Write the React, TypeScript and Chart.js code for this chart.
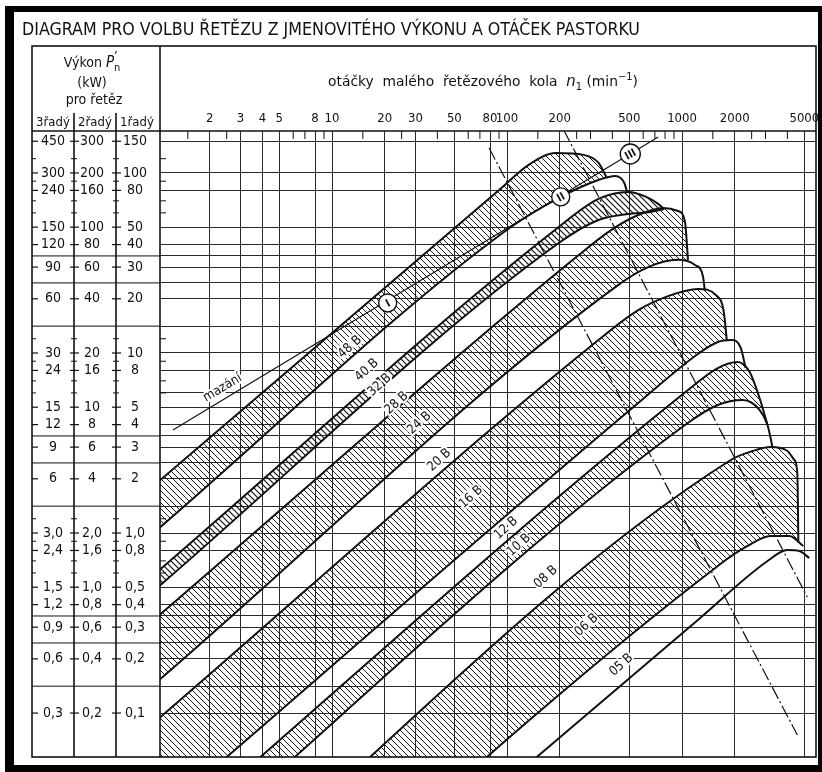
import { useEffect, useRef } from "react";
import { Chart, registerables } from "chart.js";

Chart.register(...registerables);

const FONT = "'DejaVu Sans Condensed', 'Liberation Sans Narrow', 'DejaVu Sans', sans-serif";

// ---------------- axis ranges ----------------
const rpmMin = 1.04;
const rpmMax = 5830;
const kwMin = 0.057;
const kwMax = 171;

// ---------------- x axis (otáčky n1) ----------------
const xTicks = [2, 3, 4, 5, 8, 10, 20, 30, 50, 80, 100, 200, 500, 1000, 2000, 5000];
const xTickLabels = ["2", "3", "4", "5", "8", "10", "20", "30", "50", "80", "100", "200", "500", "1000", "2000", "5000"];
const xMinorTicks = [1.5, 2.5, 6, 7, 9, 15, 25, 40, 60, 70, 90, 150, 250, 300, 400, 600, 700, 800, 900, 1500, 2500, 3000, 4000];

// ---------------- y axis (výkon, 1-řadý scale) ----------------
const yValues = [150, 100, 80, 50, 40, 30, 20, 10, 8, 5, 4, 3, 2, 1, 0.8, 0.5, 0.4, 0.3, 0.2, 0.1];
const yLabels3 = ["450", "300", "240", "150", "120", "90", "60", "30", "24", "15", "12", "9", "6", "3,0", "2,4", "1,5", "1,2", "0,9", "0,6", "0,3"];
const yLabels2 = ["300", "200", "160", "100", "80", "60", "40", "20", "16", "10", "8", "6", "4", "2,0", "1,6", "1,0", "0,8", "0,6", "0,4", "0,2"];
const yLabels1 = ["150", "100", "80", "50", "40", "30", "20", "10", "8", "5", "4", "3", "2", "1,0", "0,8", "0,5", "0,4", "0,3", "0,2", "0,1"];
const yDividers = [34.6, 24.5, 14.1, 3.46, 2.45, 1.41, 0.346, 0.245, 0.141];
const yExtraGrid = [6];
const yMinorTicks = [120, 90, 70, 60, 12, 9, 7, 6, 1.2, 0.9, 0.7, 0.6];

// ---------------- chain band boundaries [rpm, kW (1-řadý)] ----------------
type Pt = [number, number];
const b48Top: Pt[] = [[1, 1.9], [90.1, 80.4], [133, 111], [190, 129], [274, 126], [333, 114], [370, 95.0]];
const b48_40: Pt[] = [[1, 1.04], [96.1, 47.0], [203, 73.6], [333, 91.4], [416, 96.2], [468, 88.0], [487, 77.4]];
const b40_32: Pt[] = [[1, 0.607], [197.5, 50.1], [333, 71.7], [493, 78.4], [625, 73.6], [730, 67.3], [790, 63.1]];
const b32_28: Pt[] = [[1, 0.495], [197.5, 40.8], [333, 54.8], [493, 59.2], [658, 60.7], [790, 63.1]];
const b28_24: Pt[] = [[1, 0.341], [257, 35.0], [395, 48.3], [562, 58.4], [780, 63.9], [949, 61.5], [1040, 53.4], [1082, 32.9]];
const b24_20: Pt[] = [[1, 0.149], [433, 23.9], [641, 30.0], [949, 32.9], [1186, 30.8], [1316, 26.8], [1351, 22.1]];
const b20_16: Pt[] = [[1, 0.0914], [333, 11.8], [562, 17.3], [833, 20.7], [1232, 22.7], [1561, 21.0], [1733, 16.9], [1802, 11.8]];
const b16_12: Pt[] = [[1, 0.0264], [562, 5.27], [1232, 9.87], [1602, 11.5], [1924, 11.8], [2164, 10.7], [2310, 8.25]];
const b12_10: Pt[] = [[1, 0.018], [1082, 6.23], [1602, 8.25], [2081, 8.91], [2435, 7.84], [2774, 5.62], [3081, 3.98]];
const b10_08: Pt[] = [[1, 0.012], [1040, 3.98], [1602, 5.14], [2221, 5.48], [2774, 4.83], [3081, 3.98], [3289, 3.0]];
const b08_06: Pt[] = [[1, 0.00482], [1898, 2.545], [2532, 2.854], [3204, 3.0], [4003, 2.854], [4385, 2.545], [4562, 2.127], [4622, 0.89]];
const b06_05: Pt[] = [[1, 0.001377], [1602, 0.656], [2371, 0.847], [3204, 0.962], [4108, 0.962], [4933, 0.847]];
const b05Low: Pt[] = [[1, 0.000915], [1232, 0.3286], [3081, 0.699], [4003, 0.804], [4683, 0.794], [5337, 0.726]];

const bounds = [b48Top, b48_40, b40_32, b32_28, b28_24, b24_20, b20_16, b16_12, b12_10, b10_08, b08_06, b06_05, b05Low];
// fill style of the band between bounds[i] and bounds[i+1]
const bandFill = ["hatch", "", "ladder", "", "hatch", "", "hatch", "", "hatch", "", "hatch", "", ""];

// lubrication line (mazání, I, II, III) and the two dash-dot limits
const lubeLine: Pt[] = [[1.233, 3.735], [730.5, 158.5]];
const dashLine1: Pt[] = [[79.0, 137.7], [4562, 0.0755]];
const dashLine2: Pt[] = [[210.8, 173.3], [5198, 0.441]];
const zoneNames = ["I", "II", "III"];
const zoneRpm = [20.8, 202.7, 506.3];
const zoneKw = [18.96, 73.6, 127.5];

const chainNames = ["48 B", "40 B", "32 B", "28 B", "24 B", "20 B", "16 B", "12 B", "10 B", "08 B", "06 B", "05 B"];
const chainLabelRpm = [12.66, 15.8, 18.7, 23.4, 31.6, 41.1, 62.4, 98.7, 117, 166.6, 284.8, 450.3];
const chainLabelKw = [10.8, 8.04, 6.64, 5.27, 4.08, 2.54, 1.585, 1.066, 0.858, 0.57, 0.308, 0.185];
const lubeLabel = "mazání";
const lubeLabelPos: Pt = [2.37, 6.39];

const TITLE = "DIAGRAM PRO VOLBU ŘETĚZU Z JMENOVITÉHO VÝKONU A OTÁČEK PASTORKU";
const rowHeads = ["3řadý", "2řadý", "1řadý"];

type Seg = { t: string; f: string; dy?: number; adv?: boolean };

function richWidth(ctx: CanvasRenderingContext2D, segs: Seg[]) {
  let w = 0;
  for (const s of segs) {
    ctx.font = s.f;
    if (s.adv !== false) w += ctx.measureText(s.t).width;
  }
  return w;
}
function drawRich(ctx: CanvasRenderingContext2D, segs: Seg[], x: number, y: number) {
  let cx = x;
  for (const s of segs) {
    ctx.font = s.f;
    ctx.fillText(s.t, cx, y + (s.dy || 0));
    if (s.adv !== false) cx += ctx.measureText(s.t).width;
  }
}
function drawFit(ctx: CanvasRenderingContext2D, segs: Seg[], x: number, y: number, w: number) {
  const tw = richWidth(ctx, segs);
  ctx.save();
  ctx.translate(x, y);
  ctx.scale(w / tw, 1);
  drawRich(ctx, segs, 0, 0);
  ctx.restore();
}
function drawCentered(ctx: CanvasRenderingContext2D, segs: Seg[], cx: number, y: number) {
  const tw = richWidth(ctx, segs);
  drawRich(ctx, segs, cx - tw / 2, y);
}

function makePattern(size: number, lw: number, color: string) {
  const c = document.createElement("canvas");
  c.width = size;
  c.height = size;
  const g = c.getContext("2d")!;
  g.strokeStyle = color;
  g.lineWidth = lw;
  g.beginPath();
  g.moveTo(-1, -1);
  g.lineTo(size + 1, size + 1);
  g.moveTo(-1, size - 1);
  g.lineTo(1, size + 1);
  g.moveTo(size - 1, -1);
  g.lineTo(size + 1, 1);
  g.stroke();
  return g.createPattern(c, "repeat")!;
}

const decorPlugin = {
  id: "decor",
  beforeDraw(chart: any) {
    const { ctx, width, height } = chart;
    ctx.save();
    ctx.fillStyle = "#fff";
    ctx.fillRect(0, 0, width, height);
    ctx.restore();
  },
  afterDraw(chart: any) {
    const ctx = chart.ctx as CanvasRenderingContext2D;
    const xs = chart.scales.x;
    const ys = chart.scales.y;
    const { left: PL, right: PR, top: PT, bottom: PB } = chart.chartArea;
    const TL = 32, C2 = 74, C1 = 116, TT = 46;
    const ink = "#111";
    const line = (x1: number, y1: number, x2: number, y2: number) => {
      ctx.beginPath();
      ctx.moveTo(x1, y1);
      ctx.lineTo(x2, y2);
      ctx.stroke();
    };
    ctx.save();
    ctx.strokeStyle = ink;
    ctx.fillStyle = ink;

    // minor ticks on top edge and left edge of the plot
    ctx.lineWidth = 1;
    for (const v of xMinorTicks) {
      const x = xs.getPixelForValue(v);
      line(x, PT, x, PT + 8);
    }
    for (const v of yMinorTicks) {
      const y = ys.getPixelForValue(v);
      line(PL, y, PL + 6, y);
    }

    // table frame
    ctx.lineWidth = 1.6;
    ctx.strokeRect(TL, TT, PR - TL, PB - TT);
    line(PL, TT, PL, PB);
    line(TL, PT, PR, PT);
    line(C2, PT - 18, C2, PB);
    line(C1, PT - 18, C1, PB);

    // dividers across the power columns
    ctx.lineWidth = 1;
    for (const v of yDividers) {
      const y = ys.getPixelForValue(v);
      line(TL, y, PL, y);
    }
    // tick marks in the columns
    ctx.lineWidth = 1.2;
    for (const v of yValues) {
      const y = ys.getPixelForValue(v);
      line(TL, y, TL + 6, y);
      line(C2 - 4, y, C2 + 5, y);
      line(C1 - 4, y, C1 + 5, y);
    }
    ctx.lineWidth = 1;
    for (const v of yMinorTicks) {
      const y = ys.getPixelForValue(v);
      line(TL, y, TL + 4, y);
      line(C2 - 3, y, C2 + 3, y);
      line(C1 - 3, y, C1 + 3, y);
    }

    // power labels
    ctx.font = `14px ${FONT}`;
    ctx.textAlign = "center";
    ctx.textBaseline = "middle";
    yValues.forEach((v, i) => {
      const y = ys.getPixelForValue(v);
      ctx.fillText(yLabels3[i], 53, y);
      ctx.fillText(yLabels2[i], 92, y);
      ctx.fillText(yLabels1[i], 135, y);
    });

    // header texts
    ctx.textAlign = "left";
    ctx.textBaseline = "alphabetic";
    drawFit(ctx, [{ t: TITLE, f: `17px ${FONT}` }], 22, 35, 618);
    drawCentered(
      ctx,
      [
        { t: "Výkon ", f: `14px ${FONT}` },
        { t: "P", f: `italic 15px ${FONT}` },
        { t: "’", f: `13px ${FONT}`, dy: -7, adv: false },
        { t: "n", f: `11px ${FONT}`, dy: 4 },
      ],
      92,
      67
    );
    drawCentered(ctx, [{ t: "(kW)", f: `14px ${FONT}` }], 92, 87);
    drawCentered(ctx, [{ t: "pro řetěz", f: `14px ${FONT}` }], 94, 104);
    ctx.textAlign = "center";
    ctx.font = `13px ${FONT}`;
    ctx.fillText(rowHeads[0], 53, 126);
    ctx.fillText(rowHeads[1], 95, 126);
    ctx.fillText(rowHeads[2], 137, 126);
    ctx.textAlign = "left";
    drawFit(
      ctx,
      [
        { t: "otáčky  malého  řetězového  kola  ", f: `14px ${FONT}` },
        { t: "n", f: `italic 15px ${FONT}` },
        { t: "1", f: `10px ${FONT}`, dy: 4 },
        { t: " (min", f: `14px ${FONT}` },
        { t: "−1", f: `10px ${FONT}`, dy: -6 },
        { t: ")", f: `14px ${FONT}` },
      ],
      328,
      86,
      310
    );

    // clip annotations to plot
    ctx.save();
    ctx.beginPath();
    ctx.rect(PL, PT, PR - PL, PB - PT);
    ctx.clip();

    // chain labels
    ctx.font = `13px ${FONT}`;
    ctx.textAlign = "center";
    ctx.textBaseline = "middle";
    chainNames.forEach((t, i) => {
      const x = xs.getPixelForValue(chainLabelRpm[i]);
      const y = ys.getPixelForValue(chainLabelKw[i]);
      ctx.save();
      ctx.translate(x, y);
      ctx.rotate((-42 * Math.PI) / 180);
      ctx.lineWidth = 4;
      ctx.strokeStyle = "#fff";
      ctx.strokeText(t, 0, 0);
      ctx.fillStyle = ink;
      ctx.fillText(t, 0, 0);
      ctx.restore();
    });
    {
      const x = xs.getPixelForValue(lubeLabelPos[0]);
      const y = ys.getPixelForValue(lubeLabelPos[1]);
      ctx.save();
      ctx.translate(x, y);
      ctx.rotate((-31 * Math.PI) / 180);
      ctx.lineWidth = 4;
      ctx.strokeStyle = "#fff";
      ctx.strokeText(lubeLabel, 0, 0);
      ctx.fillStyle = ink;
      ctx.fillText(lubeLabel, 0, 0);
      ctx.restore();
    }
    // lubrication zone circles
    zoneNames.forEach((t, i) => {
      const x = xs.getPixelForValue(zoneRpm[i]);
      const y = ys.getPixelForValue(zoneKw[i]);
      ctx.beginPath();
      ctx.arc(x, y, i === 2 ? 10 : 9, 0, Math.PI * 2);
      ctx.fillStyle = "#fff";
      ctx.fill();
      ctx.lineWidth = 1.4;
      ctx.strokeStyle = ink;
      ctx.stroke();
      ctx.save();
      ctx.translate(x, y);
      ctx.rotate(-0.5);
      ctx.fillStyle = ink;
      ctx.font = `bold 11px ${FONT}`;
      ctx.fillText(t, 0, 1);
      ctx.restore();
    });
    ctx.restore();

    // thick outer frame
    ctx.fillStyle = "#000";
    ctx.fillRect(5, 6, 817, 6);
    ctx.fillRect(5, 6, 9, 766);
    ctx.fillRect(5, 765, 817, 7);
    ctx.fillRect(818, 6, 4, 766);
    ctx.restore();
  },
};

export default function App() {
  const ref = useRef<HTMLCanvasElement>(null);
  useEffect(() => {
    document.body.style.margin = "0";
    const canvas = ref.current!;
    const hatch = makePattern(6, 1, "#1a1a1a");
    const ladder = makePattern(6, 1.2, "#111");

    const toXY = (arr: Pt[]) => arr.map(([x, y]) => ({ x, y }));
    const datasets: any[] = bounds.map((b, i) => ({
      label: "boundary " + i,
      data: toXY(b),
      borderColor: "#111",
      borderWidth: 2,
      pointRadius: 0,
      pointHoverRadius: 0,
      cubicInterpolationMode: "monotone",
      fill: bandFill[i] ? "+1" : false,
      backgroundColor: bandFill[i] === "ladder" ? ladder : bandFill[i] === "hatch" ? hatch : "rgba(0,0,0,0)",
    }));
    datasets.push({
      label: "mazání",
      data: toXY(lubeLine),
      borderColor: "#111",
      borderWidth: 1.2,
      pointRadius: 0,
      fill: false,
      tension: 0,
    });
    [dashLine1, dashLine2].forEach((d, k) =>
      datasets.push({
        label: "limit " + (k + 1),
        data: toXY(d),
        borderColor: "#111",
        borderWidth: 1.2,
        borderDash: [13, 3, 2, 3],
        pointRadius: 0,
        fill: false,
        tension: 0,
      })
    );

    const chart = new Chart(canvas, {
      type: "line",
      data: { datasets },
      options: {
        animation: false,
        responsive: false,
        events: [],
        layout: { padding: { left: 22, right: 6, top: 0, bottom: 15 }, autoPadding: false },
        plugins: {
          legend: { display: false },
          tooltip: { enabled: false },
          filler: { drawTime: "beforeDatasetsDraw" },
        },
        scales: {
          x: {
            type: "logarithmic",
            position: "top",
            min: rpmMin,
            max: rpmMax,
            afterBuildTicks: (s: any) => {
              s.ticks = xTicks.map((v) => ({ value: v }));
            },
            afterFit: (s: any) => {
              s.height = 131;
              s.paddingLeft = 0;
              s.paddingRight = 0;
            },
            ticks: {
              autoSkip: false,
              maxRotation: 0,
              minRotation: 0,
              padding: 5,
              color: "#111",
              font: { family: FONT, size: 13 },
              callback: (_v: any, i: number) => xTickLabels[i],
            },
            grid: { color: "#2a2a2a", lineWidth: 1, drawTicks: false },
            border: { display: false },
          },
          y: {
            type: "logarithmic",
            position: "left",
            min: kwMin,
            max: kwMax,
            afterBuildTicks: (s: any) => {
              s.ticks = [...yValues, ...yDividers, ...yExtraGrid].map((v) => ({ value: v }));
            },
            afterFit: (s: any) => {
              s.width = 138;
              s.paddingTop = 0;
              s.paddingBottom = 0;
            },
            ticks: { display: false },
            grid: { color: "#2a2a2a", lineWidth: 1, drawTicks: false },
            border: { display: false },
          },
        },
      } as any,
      plugins: [decorPlugin],
    });
    return () => chart.destroy();
  }, []);
  return <canvas ref={ref} width={822} height={772} style={{ display: "block", width: 822, height: 772 }} />;
}
